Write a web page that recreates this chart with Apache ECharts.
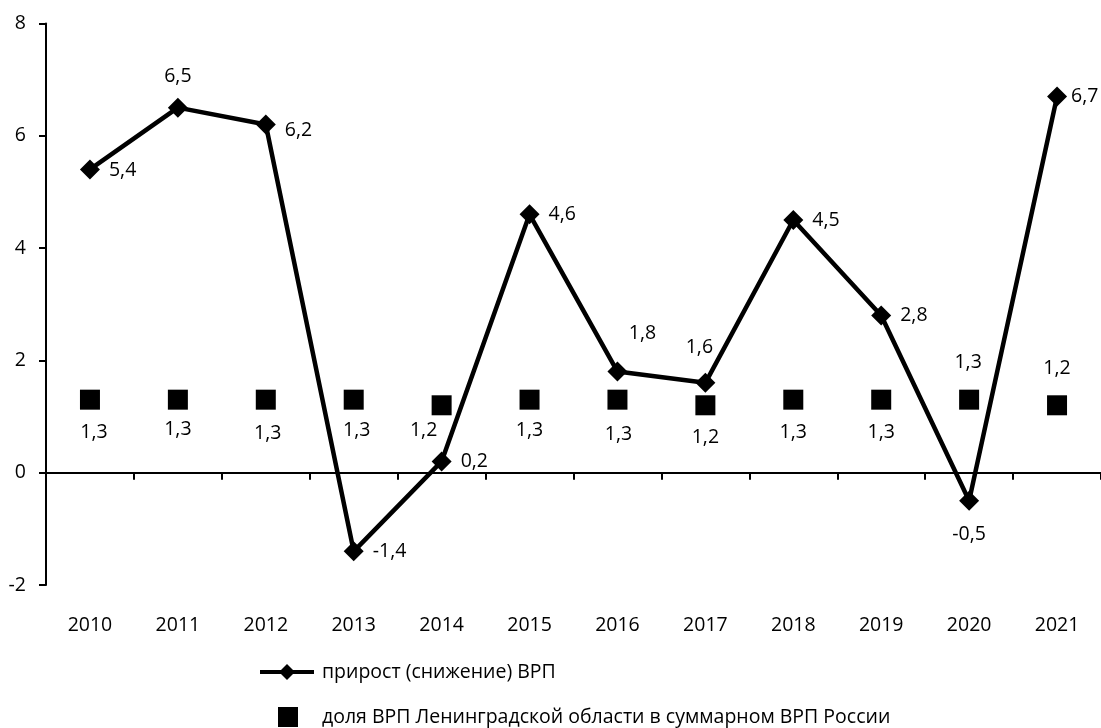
<!DOCTYPE html>
<html>
<head>
<meta charset="utf-8">
<script src="https://cdn.jsdelivr.net/npm/echarts@6/dist/echarts.min.js"></script>
<style>
  html, body { margin: 0; padding: 0; background: #fff; }
  #chart { width: 1101px; height: 728px; }
</style>
</head>
<body>
<div id="chart"></div>
<script>
// Годы
const years = ['2010', '2011', '2012', '2013', '2014', '2015', '2016', '2017', '2018', '2019', '2020', '2021'];
// прирост (снижение) ВРП, %
const growth = [5.4, 6.5, 6.2, -1.4, 0.2, 4.6, 1.8, 1.6, 4.5, 2.8, -0.5, 6.7];
// доля ВРП Ленинградской области в суммарном ВРП России, %
const share = [1.3, 1.3, 1.3, 1.3, 1.2, 1.3, 1.3, 1.2, 1.3, 1.3, 1.3, 1.2];
// Значения шкалы
const yMin = -2, yMax = 8, yStep = 2;

const growthName = 'прирост (снижение) ВРП';
const shareName = 'доля ВРП Ленинградской области в суммарном ВРП России';

// Размещение подписей точек
const growthLabelPlace = [
  { position: 'right', offset: [1, 1] },
  { position: 'top', offset: [0, -3] },
  { position: 'right', offset: [1, 6] },
  { position: 'right', offset: [1, 0] },
  { position: 'right', offset: [1, 0] },
  { position: 'right', offset: [1, 0] },
  { position: 'top', offset: [25, -10] },
  { position: 'top', offset: [-6, -7] },
  { position: 'right', offset: [1, 0] },
  { position: 'right', offset: [1, 0] },
  { position: 'bottom', offset: [0, 6] },
  { position: 'right', offset: [-4, 0] }
];
const shareLabelPlace = [
  { position: 'bottom', offset: [4, 3] },
  { position: 'bottom', offset: [0, 0] },
  { position: 'bottom', offset: [2, 4] },
  { position: 'bottom', offset: [3, 1] },
  { position: 'bottom', offset: [-18, -5] },
  { position: 'bottom', offset: [0, 1] },
  { position: 'bottom', offset: [1, 5] },
  { position: 'bottom', offset: [0, 2] },
  { position: 'bottom', offset: [0, 3] },
  { position: 'bottom', offset: [0, 3] },
  { position: 'top', offset: [-1, -7] },
  { position: 'top', offset: [0, -7] }
];

const FONT = "'Open Sans', 'DejaVu Sans', sans-serif";
const fmt = v => String(v).replace('.', ',');

// Значок легенды: отрезок линии с ромбом посередине
const lineDiamondIcon = 'path://M0 6 L54 6 L54 10 L0 10 Z M27 0 L35 8 L27 16 L19 8 Z';

const chart = echarts.init(document.getElementById('chart'), null, { renderer: 'canvas' });

chart.setOption({
  animation: false,
  backgroundColor: '#ffffff',
  textStyle: { fontFamily: FONT, color: '#000' },
  grid: { left: 46, right: -10, top: 23.4, bottom: 143, containLabel: false },
  legend: [
    {
      data: [{ name: growthName, icon: lineDiamondIcon }],
      left: 260, top: 662, padding: 0,
      itemWidth: 54, itemHeight: 16,
      itemStyle: { color: '#000', opacity: 1 },
      textStyle: { fontFamily: FONT, fontSize: 19.5, color: '#000', padding: [0, 0, 0, 3] }
    },
    {
      data: [shareName],
      left: 278, top: 707, padding: 0,
      itemWidth: 20, itemHeight: 20,
      icon: 'rect',
      itemStyle: { color: '#000', opacity: 1 },
      textStyle: { fontFamily: FONT, fontSize: 19.5, color: '#000', padding: [0, 0, 0, 19] }
    }
  ],
  xAxis: [
    {
      type: 'category',
      data: years,
      position: 'bottom',
      axisLine: { show: false, onZero: false },
      axisTick: { show: false },
      axisLabel: { fontFamily: FONT, fontSize: 19.5, color: '#000', margin: 30 },
      splitLine: { show: false }
    },
    {
      type: 'category',
      data: years,
      position: 'top',
      axisLine: { show: true, onZero: true, lineStyle: { color: '#000', width: 2 } },
      axisTick: { show: true, inside: true, length: 7, lineStyle: { color: '#000', width: 2 } },
      axisLabel: { show: false },
      splitLine: { show: false }
    }
  ],
  yAxis: {
    type: 'value',
    min: yMin, max: yMax, interval: yStep,
    axisLine: { show: true, lineStyle: { color: '#000', width: 2 } },
    axisTick: { show: true, length: 7, lineStyle: { color: '#000', width: 2 } },
    axisLabel: { fontFamily: FONT, fontSize: 19.5, color: '#000', margin: 20, formatter: v => fmt(v) },
    splitLine: { show: false }
  },
  series: [
    {
      name: growthName,
      type: 'line',
      xAxisIndex: 0,
      data: growth.map((v, i) => ({
        value: v,
        label: { position: growthLabelPlace[i].position, offset: growthLabelPlace[i].offset }
      })),
      symbol: 'diamond',
      symbolSize: 20,
      clip: false,
      itemStyle: { color: '#000', opacity: 1 },
      lineStyle: { color: '#000', width: 4.5 },
      label: {
        show: true, distance: 8,
        fontFamily: FONT, fontSize: 19.5, color: '#000',
        formatter: p => fmt(p.value)
      },
      z: 3
    },
    {
      name: shareName,
      type: 'scatter',
      xAxisIndex: 0,
      data: share.map((v, i) => ({
        value: v,
        label: { position: shareLabelPlace[i].position, offset: shareLabelPlace[i].offset }
      })),
      symbol: 'rect',
      symbolSize: 20,
      itemStyle: { color: '#000', opacity: 1 },
      label: {
        show: true, distance: 10,
        fontFamily: FONT, fontSize: 19.5, color: '#000',
        formatter: p => fmt(p.value)
      },
      z: 2
    }
  ]
});
</script>
</body>
</html>
